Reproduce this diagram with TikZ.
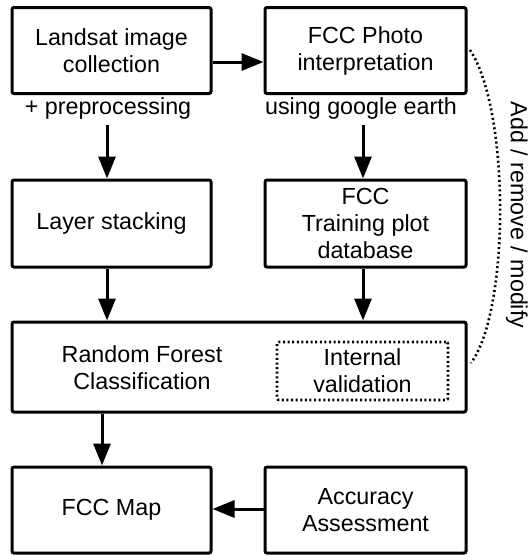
\documentclass[tikz,border=0pt]{standalone}
\usepackage{fontspec}
\setmainfont{Liberation Sans}
\usetikzlibrary{arrows.meta}
\begin{document}
\begin{tikzpicture}[x=1pt,y=1pt,
  every node/.style={font=\fontsize{23.3}{27}\selectfont, inner sep=0pt, align=center},
  box/.style={draw, line width=3pt, rounded corners=2pt, minimum height=86pt},
  ivbox/.style={draw, line width=2.6pt, dash pattern={on 2pt off 2.6pt}, rounded corners=2pt, minimum width=171pt, minimum height=58pt},
  arr/.style={line width=3pt, -{Triangle[length=22pt,width=17pt]}},
  loop/.style={line width=2.6pt, dash pattern={on 2pt off 2.8pt}}
]
\useasboundingbox (0,0) rectangle (529,-555);
\node[box, minimum width=199pt] (land) at (111.5,-50.5) {Landsat image\\collection};
\node[box, minimum width=201pt] (photo) at (365.5,-50.5) {FCC Photo\\interpretation};
\node (pre) at (108,-108) {+ preprocessing};
\node (google) at (361,-108) {using google earth};
\node[box, minimum width=199pt, minimum height=87pt] (layer) at (111.5,-223.5) {Layer stacking};
\node[box, minimum width=201pt, minimum height=87pt] (train) at (365.5,-223.5) {FCC\\Training plot\\database};
\node[box, minimum width=454pt, minimum height=90pt] (rf) at (239,-367) {};
\node (rftext) at (142,-368) {Random Forest\\Classification};
\node[ivbox] (iv) at (362.5,-371) {Internal\\validation};
\node[box, minimum width=199pt] (map) at (111.5,-510) {FCC Map};
\node[box, minimum width=201pt] (acc) at (365.5,-510) {Accuracy\\Assessment};
\node[rotate=-90] (addlbl) at (517,-215) {Add / remove / modify};
\coordinate (loopA) at (470,-50);
\coordinate (loopB) at (471,-363);
% arrows
\draw[arr] (land.east |- 0,-62) -- (photo.west |- 0,-62);
\draw[arr] (pre.south -| 107,0) ++(0,-6) -- (layer.north -| 107,0);
\draw[arr] (google.south -| 363,0) ++(0,-6) -- (train.north -| 363,0);
\draw[arr] (layer.south -| 107,0) -- (rf.north -| 107,0);
\draw[arr] (train.south -| 363,0) -- (rf.north -| 363,0);
\draw[arr] (rf.south -| 102,0) -- (map.north -| 102,0);
\draw[arr] (acc.west |- 0,-509) -- (map.east |- 0,-509);
\draw[loop] (loopA) .. controls (510,-110) and (510,-310) .. (loopB);
\end{tikzpicture}
\end{document}
